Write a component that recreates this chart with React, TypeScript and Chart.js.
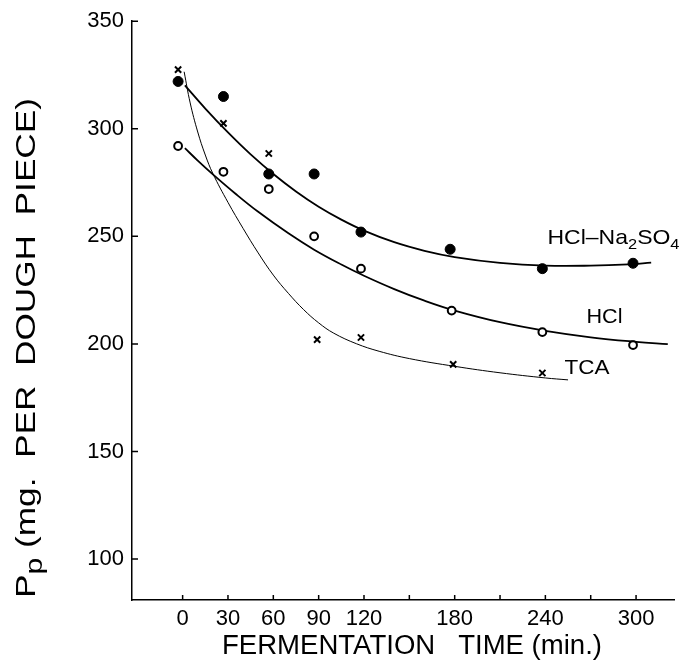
import React, { useEffect, useRef } from 'react';
import { Chart, registerables } from 'chart.js';

Chart.register(...registerables);

// ---- data ----
// HCl–Na2SO4 (filled dots)
const NA_TIMES = [-3, 27, 57, 87, 118, 177, 238, 298];
const NA_VALUES = [322, 315, 279, 279, 252, 244, 235, 237.5];
// HCl (open circles)
const HCL_TIMES = [-3, 27, 57, 87, 118, 178, 238, 298];
const HCL_VALUES = [292, 280, 272, 250, 235, 215.5, 205.5, 199.5];
// TCA (crosses)
const TCA_TIMES = [-3, 27, 57, 89, 118, 179, 238];
const TCA_VALUES = [327.5, 302.5, 288.5, 202, 203, 190.5, 186.5];

// fitted curves
const NA_CURVE_T = [1.5, 15, 30, 45, 60, 75, 90, 105, 120, 140, 160, 180, 210, 240, 270, 295, 310];
const NA_CURVE_V = [320.2, 309.4, 298.3, 288.1, 279, 270.9, 263.8, 257.8, 252.7, 247.3, 243.3, 240.4, 237.7, 236.4, 236.4, 237, 237.8];
const HCL_CURVE_T = [1.5, 10, 20, 35, 50, 70, 87, 105, 120, 140, 160, 180, 210, 240, 270, 300, 321];
const HCL_CURVE_V = [291, 285.2, 278.8, 269.8, 261.4, 251.4, 243.8, 236.9, 231.7, 225.5, 220.1, 215.5, 210.1, 206.1, 203.1, 201, 199.9];
const TCA_CURVE_T = [1, 5, 10, 15, 20, 30, 40, 50, 60, 70, 80, 90, 100, 115, 130, 150, 180, 210, 240, 255];
const TCA_CURVE_V = [326.5, 312, 298.5, 287.8, 279.2, 265.8, 253.7, 242.3, 232, 223.5, 216, 209.8, 205, 200.1, 196.6, 193.2, 189.6, 186.6, 184.2, 183.3];

// axes
const X_TICKS = [0, 30, 60, 90, 120, 150, 180, 210, 240, 270, 300];
const X_TICK_LABELS = [0, 30, 60, 90, 120, 180, 240, 300];
const Y_TICKS = [100, 150, 200, 250, 300, 350];

const FONT = "'Liberation Sans', Arial, sans-serif";

type Part = { text: string; size: number; dy: number };

function drawRich(ctx: CanvasRenderingContext2D, parts: Part[], x: number, y: number, width: number) {
  let total = 0;
  const ws = parts.map((p) => {
    ctx.font = `${p.size}px ${FONT}`;
    const w = ctx.measureText(p.text).width;
    total += w;
    return w;
  });
  const s = width / total;
  ctx.save();
  ctx.translate(x, y);
  ctx.scale(s, 1);
  ctx.textAlign = 'left';
  ctx.textBaseline = 'alphabetic';
  ctx.fillStyle = '#000';
  let cx = 0;
  parts.forEach((p, i) => {
    ctx.font = `${p.size}px ${FONT}`;
    ctx.fillText(p.text, cx, p.dy);
    cx += ws[i];
  });
  ctx.restore();
}

const pts = (xs: number[], ys: number[]) => xs.map((x, i) => ({ x, y: ys[i] }));

const decorPlugin = {
  id: 'decor',
  afterDraw(chart: any) {
    const { ctx, chartArea, scales } = chart;
    const xs = scales.x;
    const ys = scales.y;
    ctx.save();
    ctx.strokeStyle = '#000';
    ctx.lineWidth = 1.5;
    ctx.beginPath();
    X_TICKS.forEach((v) => {
      const px = xs.getPixelForValue(v);
      ctx.moveTo(px, chartArea.bottom);
      ctx.lineTo(px, chartArea.bottom - 5);
    });
    Y_TICKS.forEach((v) => {
      const py = ys.getPixelForValue(v);
      ctx.moveTo(chartArea.left, py);
      ctx.lineTo(chartArea.left + 6, py);
    });
    ctx.stroke();
    ctx.restore();

    // x title
    drawRich(ctx, [{ text: 'FERMENTATION   TIME (min.)', size: 27, dy: 0 }], 222, 654, 380);

    // y title (rotated)
    ctx.save();
    ctx.translate(35, 598);
    ctx.rotate(-Math.PI / 2);
    drawRich(
      ctx,
      [
        { text: 'P', size: 28, dy: 0 },
        { text: 'p', size: 24, dy: 7 },
        { text: ' (mg.  PER  DOUGH  PIECE)', size: 28, dy: 0 },
      ],
      0,
      0,
      500
    );
    ctx.restore();

    // series labels, anchored in data units
    drawRich(
      ctx,
      [
        { text: 'HCl–Na', size: 21, dy: 0 },
        { text: '2', size: 15, dy: 5 },
        { text: 'SO', size: 21, dy: 0 },
        { text: '4', size: 15, dy: 5 },
      ],
      xs.getPixelForValue(241.4),
      ys.getPixelForValue(246.3),
      132
    );
    drawRich(ctx, [{ text: 'HCl', size: 21, dy: 0 }], xs.getPixelForValue(267.2), ys.getPixelForValue(209.7), 36);
    drawRich(ctx, [{ text: 'TCA', size: 21, dy: 0 }], xs.getPixelForValue(252.7), ys.getPixelForValue(186.1), 45);
  },
};

export default function App() {
  const ref = useRef<HTMLCanvasElement | null>(null);

  useEffect(() => {
    document.body.style.margin = '0';
    const canvas = ref.current;
    if (!canvas) return;

    const curve = (t: number[], v: number[], w: number) => ({
      data: pts(t, v),
      showLine: true,
      pointRadius: 0,
      borderColor: '#000',
      borderWidth: w,
      fill: false,
      tension: 0.4,
    });

    const chart = new Chart(canvas, {
      type: 'scatter',
      data: {
        datasets: [
          {
            label: 'HCl–Na2SO4',
            data: pts(NA_TIMES, NA_VALUES),
            pointStyle: 'circle',
            pointRadius: 5,
            backgroundColor: '#000',
            borderColor: '#000',
            borderWidth: 1,
          },
          {
            label: 'HCl',
            data: pts(HCL_TIMES, HCL_VALUES),
            pointStyle: 'circle',
            pointRadius: 3.9,
            backgroundColor: '#fff',
            borderColor: '#000',
            borderWidth: 2,
          },
          {
            label: 'TCA',
            data: pts(TCA_TIMES, TCA_VALUES),
            pointStyle: 'crossRot',
            pointRadius: 4.4,
            borderColor: '#000',
            borderWidth: 2,
          },
          curve(NA_CURVE_T, NA_CURVE_V, 1.8),
          curve(HCL_CURVE_T, HCL_CURVE_V, 1.8),
          curve(TCA_CURVE_T, TCA_CURVE_V, 1.0),
        ] as any,
      },
      options: {
        animation: false,
        responsive: false,
        events: [],
        layout: { padding: { top: 19, right: 6, left: 0, bottom: 0 } },
        plugins: { legend: { display: false }, tooltip: { enabled: false } },
        scales: {
          x: {
            type: 'linear',
            min: -33.5,
            max: 325.5,
            grid: { display: false, drawTicks: false },
            border: { display: true, color: '#000', width: 1.5 },
            afterBuildTicks: (scale: any) => {
              scale.ticks = X_TICKS.map((v) => ({ value: v }));
            },
            afterFit: (scale: any) => {
              scale.height = 65;
            },
            ticks: {
              padding: 6,
              color: '#000',
              font: { size: 22, family: FONT },
              maxRotation: 0,
              autoSkip: false,
              callback: (v: any) => (X_TICK_LABELS.includes(Number(v)) ? String(v) : ''),
            },
          },
          y: {
            type: 'linear',
            min: 81,
            max: 350,
            grid: { display: false, drawTicks: false },
            border: { display: true, color: '#000', width: 1.5 },
            afterBuildTicks: (scale: any) => {
              scale.ticks = Y_TICKS.map((v) => ({ value: v }));
            },
            afterFit: (scale: any) => {
              scale.width = 132;
            },
            ticks: {
              padding: 8,
              color: '#000',
              font: { size: 22, family: FONT },
              autoSkip: false,
            },
          },
        },
      },
      plugins: [decorPlugin],
    });

    return () => chart.destroy();
  }, []);

  return (
    <div style={{ width: 681, height: 665, background: '#fff' }}>
      <canvas ref={ref} width={681} height={665} style={{ display: 'block' }} />
    </div>
  );
}
